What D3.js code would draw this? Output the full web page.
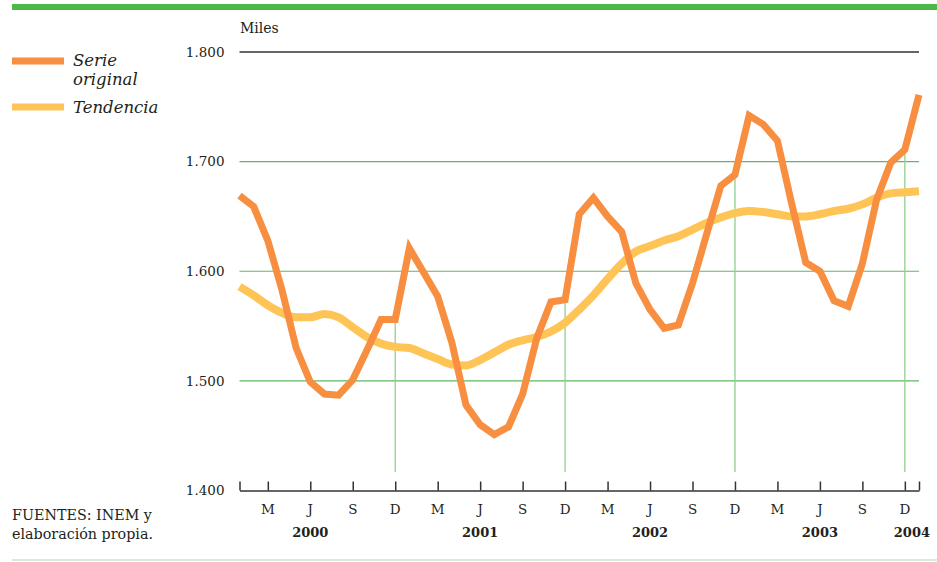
<!DOCTYPE html>
<html>
<head>
<meta charset="utf-8">
<script src="https://cdn.jsdelivr.net/npm/d3@7"></script>
<style>
  html, body { margin: 0; padding: 0; background: #fff; }
  svg { display: block; }
  text { font-family: "DejaVu Serif", "Liberation Serif", serif; fill: #231f20; }
</style>
</head>
<body>
<svg id="chart" width="937" height="562"></svg>
<script>
// Paro registrado (miles), enero 2000 – enero 2004, serie mensual
const months = d3.range(49); // 0 = ene 2000 … 48 = ene 2004

const serieOriginal = [
  1669, 1659, 1628, 1583, 1530, 1499, 1488, 1487, 1501, 1528, 1556, 1556,
  1621, 1599, 1577, 1535, 1478, 1460, 1451, 1458, 1488, 1539, 1572, 1574,
  1652, 1667, 1650, 1636, 1589, 1565, 1548, 1551, 1589, 1634, 1678, 1688,
  1742, 1734, 1719, 1662, 1608, 1600, 1573, 1568, 1607, 1665, 1699, 1711,
  1761
];

const tendencia = [
  1586, 1578, 1569, 1562, 1558, 1558, 1561, 1558, 1549, 1540, 1534, 1531,
  1530, 1525, 1520, 1515, 1514, 1519, 1526, 1533, 1537, 1540, 1545, 1553,
  1565, 1578, 1593, 1607, 1618, 1623, 1628, 1632, 1638, 1644, 1649, 1653,
  1655, 1654, 1652, 1650, 1650, 1652, 1655, 1657, 1661, 1667, 1671, 1672,
  1673
];

const yTicks = [1400, 1500, 1600, 1700, 1800];
const monthTicks = [2, 5, 8, 11, 14, 17, 20, 23, 26, 29, 32, 35, 38, 41, 44, 47];
const monthLabels = ["M", "J", "S", "D"];
const years = ["2000", "2001", "2002", "2003", "2004"];
const yearPositions = [5, 17, 29, 41, 47.5];
const decemberIdx = [11, 23, 35, 47];

const esLocale = d3.formatLocale({ decimal: ",", thousands: ".", grouping: [3], currency: ["", " €"] });
const fmt = esLocale.format(",d");

const svg = d3.select("#chart");
const x = d3.scaleLinear().domain([0, 48]).range([239.5, 919]);
const y = d3.scaleLinear().domain([1400, 1800]).range([490.5, 52]);

const orange = "#f78e40";
const yellow = "#ffc456";
const green = "#5fb95f";

// Franja superior y línea inferior
svg.append("rect").attr("x", 12).attr("y", 4).attr("width", 925).attr("height", 6).attr("fill", "#4db848");
svg.append("line").attr("x1", 12).attr("x2", 937).attr("y1", 560).attr("y2", 560)
  .attr("stroke", "#cfe3cf").attr("stroke-width", 1.5);

// Rejilla horizontal
const grid = svg.append("g");
yTicks.filter(v => v > 1400).forEach(v => {
  grid.append("line")
    .attr("x1", x(0)).attr("x2", x(48))
    .attr("y1", y(v)).attr("y2", y(v))
    .attr("stroke", v === 1800 ? "#333" : green)
    .attr("stroke-width", v === 1800 ? 1.5 : 1.2);
});

// Líneas verticales desde el dato de diciembre
decemberIdx.forEach(i => {
  grid.append("line")
    .attr("x1", x(i)).attr("x2", x(i))
    .attr("y1", y(serieOriginal[i])).attr("y2", 472)
    .attr("stroke", "#8fd18f").attr("stroke-width", 1.3);
});

// Eje Y: etiquetas
const yAxis = d3.axisLeft(y).tickValues(yTicks).tickFormat(fmt).tickSize(0).tickPadding(15);
const gy = svg.append("g").attr("transform", `translate(${x(0)},0)`).call(yAxis);
gy.select(".domain").remove();
gy.selectAll("text").attr("font-size", 13.5).attr("font-family", "DejaVu Serif, serif").attr("fill", "#231f20");

svg.append("text").attr("x", 240).attr("y", 33).attr("font-size", 14).text("Miles");

// Eje X
const xAxis = d3.axisBottom(x).tickValues([0].concat(monthTicks, [48])).tickSize(0).tickFormat("");
const gx = svg.append("g").attr("transform", `translate(0,${y(1400)})`).call(xAxis);
gx.select(".domain").attr("stroke", "#333").attr("stroke-width", 1.5);
gx.selectAll(".tick").append("line").attr("y1", 0).attr("y2", -9).attr("stroke", "#333").attr("stroke-width", 1.5);

monthTicks.forEach((m, k) => {
  svg.append("text").attr("x", x(m)).attr("y", 514).attr("text-anchor", "middle")
    .attr("font-size", 13.5).text(monthLabels[k % 4]);
});
years.forEach((yr, k) => {
  svg.append("text").attr("x", x(yearPositions[k])).attr("y", 537).attr("text-anchor", "middle")
    .attr("font-size", 13).attr("font-weight", "bold").text(yr);
});

// Series
svg.append("path").datum(tendencia)
  .attr("d", d3.line().x((d, i) => x(i)).y(d => y(d)).curve(d3.curveMonotoneX))
  .attr("fill", "none").attr("stroke", yellow).attr("stroke-width", 8);
svg.append("path").datum(serieOriginal)
  .attr("d", d3.line().x((d, i) => x(i)).y(d => y(d)))
  .attr("fill", "none").attr("stroke", orange).attr("stroke-width", 7)
  .attr("stroke-linejoin", "miter");

// Leyenda
const legend = svg.append("g");
legend.append("line").attr("x1", 12).attr("x2", 64).attr("y1", 61).attr("y2", 61).attr("stroke", orange).attr("stroke-width", 7);
legend.append("text").attr("x", 73).attr("y", 66).attr("font-size", 16.5).attr("font-style", "italic").text("Serie");
legend.append("text").attr("x", 73).attr("y", 85).attr("font-size", 16.5).attr("font-style", "italic").text("original");
legend.append("line").attr("x1", 12).attr("x2", 64).attr("y1", 107).attr("y2", 107).attr("stroke", yellow).attr("stroke-width", 7);
legend.append("text").attr("x", 73).attr("y", 113).attr("font-size", 16.5).attr("font-style", "italic").text("Tendencia");

// Fuente
svg.append("text").attr("x", 12).attr("y", 520).attr("font-size", 14.3).text("FUENTES: INEM y");
svg.append("text").attr("x", 12).attr("y", 539).attr("font-size", 14.3).text("elaboración propia.");
</script>
</body>
</html>
